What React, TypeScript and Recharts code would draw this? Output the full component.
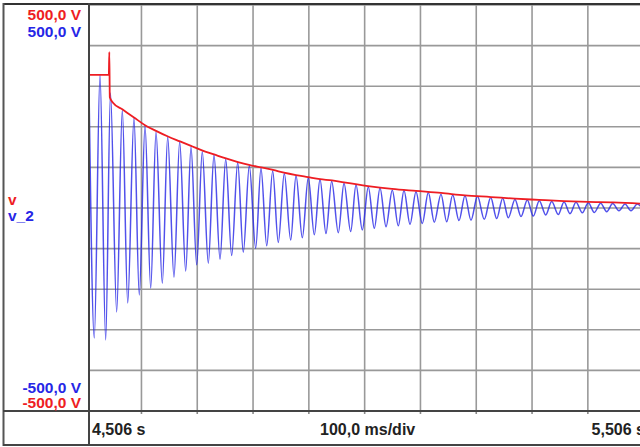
import React from "react";
import { CartesianGrid, Line, LineChart, XAxis, YAxis } from "recharts";

// time in s, voltage in V
const v2Time = [
  4.506, 4.5155, 4.5257, 4.5359, 4.5445, 4.5556, 4.5657, 4.5754, 4.5866, 4.5961,
  4.6064, 4.6166, 4.6261, 4.6374, 4.647, 4.6583, 4.6685, 4.6793, 4.6888, 4.699,
  4.709, 4.7198, 4.73, 4.7408, 4.751, 4.7617, 4.7725, 4.7825, 4.7933, 4.8047,
  4.8142, 4.8245, 4.8352, 4.8452, 4.856, 4.8675, 4.877, 4.8883, 4.899, 4.9098,
  4.92, 4.9307, 4.9409, 4.9528, 4.963, 4.975, 4.9845, 4.9958, 5.0065, 5.0173,
  5.0275, 5.0383, 5.0495, 5.0603, 5.0705, 5.0813, 5.092, 5.1033, 5.1141, 5.1248,
  5.1368, 5.147, 5.1578, 5.1691, 5.1798, 5.1906, 5.2022, 5.2144, 5.2259, 5.2366,
  5.2474, 5.2574, 5.2694, 5.2802, 5.2915, 5.3022, 5.313, 5.3245, 5.3352, 5.347,
  5.3573, 5.368, 5.3788, 5.3901, 5.4008, 5.4116, 5.423, 5.4338, 5.4445, 5.4558,
  5.4666, 5.4773, 5.4886, 5.4997
];
const v2Volts = [
  300, -320, 328, -325, 283, -256, 241, -234, 222, -214,
  202, -197, 187, -185, 175, -170, 163, -155, 150, -140,
  139, -136, 131, -126, 120, -117, 112, -109, 104, -99,
  98, -93, 91, -85, 85, -79, 80, -73, 75, -66,
  71, -63, 66, -61, 61, -58, 57, -54, 52, -50,
  49, -46, 44, -44, 43, -40, 40, -38, 38, -35,
  34, -34, 32, -31, 30, -30, 29, -28, 26, -26,
  24, -24, 21, -21, 20, -20, 18, -17, 16, -16,
  15, -14, 14, -12, 13, -11, 12, -9, 11, -7,
  10, -7, 10, -6
];

const vTime = [
  4.506, 4.5415, 4.5424, 4.5433, 4.549, 4.5657, 4.5866, 4.6064, 4.6261, 4.6476,
  4.6691, 4.6888, 4.7085, 4.73, 4.7515, 4.773, 4.7927, 4.8142, 4.8357, 4.8555,
  4.877, 4.8985, 4.92, 4.9415, 4.963, 5.006, 5.049, 5.092, 5.1368, 5.1798,
  5.2264, 5.2694, 5.3125, 5.3573, 5.4003, 5.4451, 5.4935, 5.506
];
const vVolts = [
  328, 328, 384, 273, 259, 243, 223, 204, 190, 176,
  164, 153, 142, 132, 122, 113, 106, 100, 94, 87,
  81, 76, 71, 68, 63, 54, 47, 42, 37, 31,
  27, 23, 20, 17, 15, 14, 11, 10
];

const timeTicks = [4.506, 4.6, 4.7, 4.8, 4.9, 5.0, 5.1, 5.2, 5.3, 5.4, 5.5, 5.506];
const voltTicks = [-500, -400, -300, -200, -100, 0, 100, 200, 300, 400, 500];

const startLabel = "4,506 s";
const divLabel = "100,0 ms/div";
const endLabel = "5,506 s";
const topLabel = "500,0 V";
const bottomLabel = "-500,0 V";

const RED = "#ee1d23";
const BLUE = "#2626e6";
const FONT = "'Liberation Sans', Arial, sans-serif";

const v2Data = v2Time.map((t, i) => ({ t, v: v2Volts[i] }));
const vData = vTime.map((t, i) => ({ t, v: vVolts[i] }));

function TimeTick(props: any) {
  const { x, payload } = props;
  const value = payload.value;
  const common = {
    y: 435,
    fontFamily: FONT,
    fontSize: 16,
    fontWeight: 700,
    fill: "#222"
  };
  if (value === 4.506) {
    return (
      <text {...common} x={x + 3} textAnchor="start">
        {startLabel}
      </text>
    );
  }
  if (value === 5.0) {
    return (
      <text {...common} x={x + 3} textAnchor="middle">
        {divLabel}
      </text>
    );
  }
  if (value === 5.506) {
    return (
      <text {...common} x={x - 2} textAnchor="end">
        {endLabel}
      </text>
    );
  }
  return <g />;
}

export default function App() {
  const labelStyle = { fontFamily: FONT, fontSize: 15.5, fontWeight: 700 };
  return (
    <div
      style={{
        position: "absolute",
        left: 0,
        top: 0,
        width: 640,
        height: 447,
        overflow: "hidden",
        background: "#fff"
      }}
    >
      <LineChart
        width={660}
        height={447}
        margin={{ top: 5, right: 13, bottom: 0, left: 89 }}
      >
        <CartesianGrid stroke="#999" strokeWidth={1.6} />
        <XAxis
          type="number"
          dataKey="t"
          domain={[4.506, 5.506]}
          ticks={timeTicks}
          interval={0}
          allowDataOverflow
          height={36}
          tickSize={3}
          tickLine={{ stroke: "#888", strokeWidth: 1.6 }}
          axisLine={false}
          tick={<TimeTick />}
        />
        <YAxis
          type="number"
          domain={[-500, 500]}
          ticks={voltTicks}
          allowDataOverflow
          hide
          width={0}
        />
        <Line
          data={v2Data}
          dataKey="v"
          type="monotone"
          stroke={BLUE}
          strokeWidth={1.5}
          strokeOpacity={0.8}
          dot={false}
          isAnimationActive={false}
        />
        <Line
          data={vData}
          dataKey="v"
          type="monotone"
          stroke={RED}
          strokeWidth={1.8}
          dot={false}
          isAnimationActive={false}
        />
      </LineChart>
      <svg
        width={640}
        height={447}
        style={{ position: "absolute", left: 0, top: 0, pointerEvents: "none" }}
      >
        <line x1={3} y1={4} x2={640} y2={4} stroke="#333" strokeWidth={2} />
        <line x1={3.5} y1={3} x2={3.5} y2={446} stroke="#555" strokeWidth={2} />
        <line x1={3} y1={445} x2={640} y2={445} stroke="#444" strokeWidth={2} />
        <line x1={3} y1={411} x2={640} y2={411} stroke="#444" strokeWidth={2} />
        <line x1={89} y1={3} x2={89} y2={446} stroke="#444" strokeWidth={2} />
        <text {...labelStyle} x={81} y={20} textAnchor="end" fill={RED}>
          {topLabel}
        </text>
        <text {...labelStyle} x={81} y={37} textAnchor="end" fill={BLUE}>
          {topLabel}
        </text>
        <text {...labelStyle} x={8} y={205} fill={RED}>
          v
        </text>
        <text {...labelStyle} x={8} y={221} fill={BLUE}>
          v_2
        </text>
        <text {...labelStyle} x={81} y={393} textAnchor="end" fill={BLUE}>
          {bottomLabel}
        </text>
        <text {...labelStyle} x={81} y={408} textAnchor="end" fill={RED}>
          {bottomLabel}
        </text>
      </svg>
    </div>
  );
}
